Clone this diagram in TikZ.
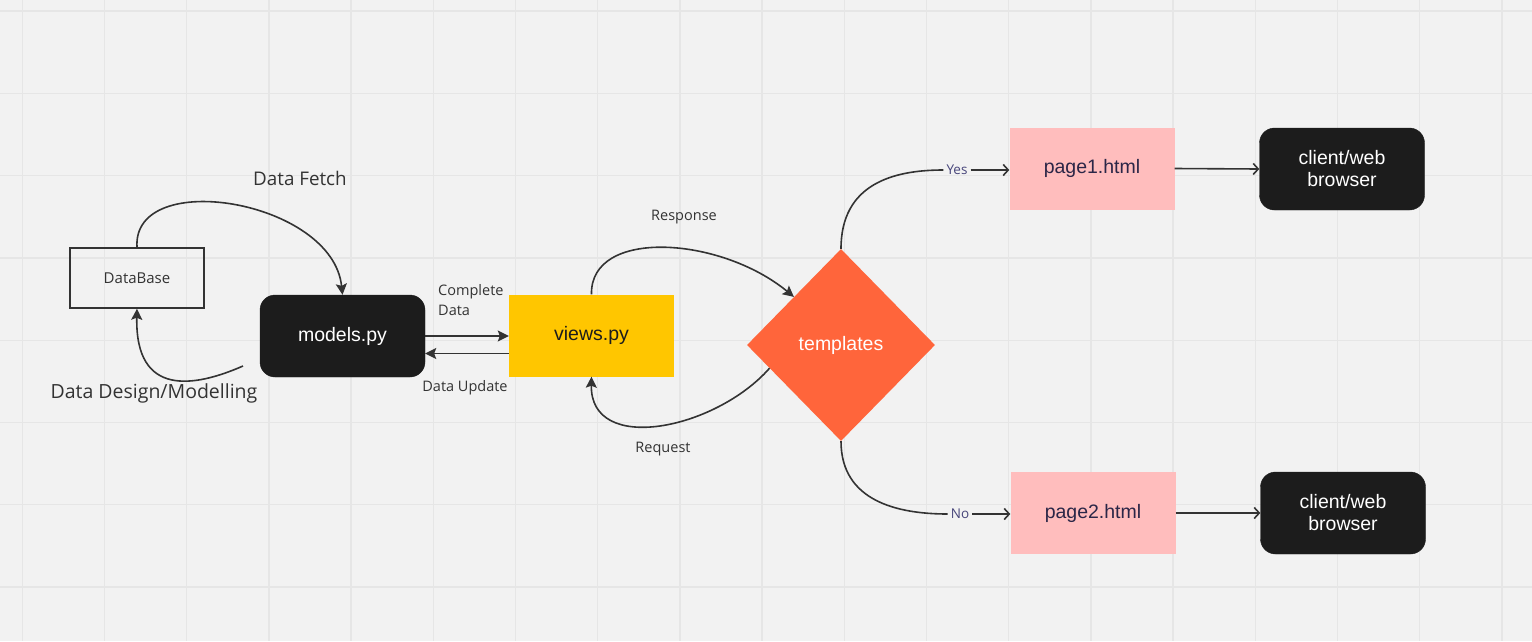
\documentclass[tikz,border=0pt]{standalone}
\usepackage{fontspec}
\setmainfont{Open Sans}
\newfontfamily\arialf{Liberation Sans}
\usetikzlibrary{shapes.geometric,arrows.meta}
\definecolor{bg}{HTML}{F2F2F2}
\definecolor{gridc}{HTML}{E6E6E6}
\definecolor{ink}{HTML}{333333}
\definecolor{dark}{HTML}{1C1C1C}
\definecolor{yel}{HTML}{FFC600}
\definecolor{ora}{HTML}{FF653B}
\definecolor{pinkc}{HTML}{FFBDBD}
\definecolor{navy}{HTML}{2B2647}
\definecolor{purp}{HTML}{47457A}
\begin{document}
\begin{tikzpicture}[x=1pt,y=-1pt,
  conn/.style={draw=ink,line width=1.6pt},
  fa/.style={conn,-{Stealth[length=11pt,width=11pt,inset=2pt]}},
  oa/.style={conn,-{Straight Barb[length=5pt,width=11pt]}},
  lbl/.style={text=ink,font=\fontsize{14.5}{16}\selectfont,inner sep=0pt},
  biglbl/.style={text=ink,inner sep=0pt},
  yn/.style={text=purp,font=\fontsize{13.5}{16}\selectfont,inner xsep=3pt,inner ysep=0pt},
  boxbase/.style={minimum width=165pt,minimum height=82pt,inner sep=0pt,align=center,
    font=\arialf\fontsize{19.5}{22}\selectfont},
  darkbox/.style={boxbase,fill=dark,draw=dark,rounded corners=15pt,text=white},
  pagebox/.style={boxbase,fill=pinkc,text=navy},
]
\useasboundingbox (0,0) rectangle (1532,641);
\fill[bg] (0,0) rectangle (1532,641);
\foreach \i in {0,...,18} \draw[gridc,line width=1.3pt] ({22.3+82.2*\i},0) -- ({22.3+82.2*\i},641);
\foreach \j in {0,...,7} \draw[gridc,line width=1.3pt] (0,{11+82.3*\j}) -- (1532,{11+82.3*\j});

% nodes
\node[draw=ink,line width=1.5pt,minimum width=134pt,minimum height=60pt,inner sep=0pt,
  text=ink,font=\fontsize{15}{18}\selectfont] (db) at (137,278) {DataBase};
\node[darkbox] (models) at (342.5,336) {models.py};
\node[boxbase,fill=yel,text=dark] (views) at (591.5,335.5) {views.py};
\node[diamond,fill=ora,minimum width=188pt,minimum height=192pt,inner sep=0pt,text=white,
  font=\arialf\fontsize{19.5}{22}\selectfont] (tmpl) at (841,345) {templates};
\node[pagebox] (page1) at (1092,168.5) {page1.html};
\node[pagebox] (page2) at (1093,513) {page2.html};
\node[darkbox] (client1) at (1342,169) {client/web\\browser};
\node[darkbox] (client2) at (1343,513) {client/web\\browser};

% labels
\node[biglbl,font=\fontsize{18.8}{20}\selectfont] (lfetch) at (300,178) {Data Fetch};
\node[biglbl,font=\fontsize{19.5}{22}\selectfont] (ldesign) at (154,393) {Data Design/Modelling};
\node[lbl,anchor=north west,align=left,font=\fontsize{14.5}{20}\selectfont] (lcomplete) at (438,284) {Complete\\Data};
\node[lbl] (lupdate) at (465,388) {Data Update};
\node[lbl] (lresp) at (684,217) {Response};
\node[lbl] (lreq) at (663,449) {Request};
\node[yn] (yes) at (957,170) {Yes};
\node[yn] (no) at (960,514) {No};

% connectors
\coordinate (dds) at (243,366);
\draw[fa] (db.north) .. controls +(-5,-80) and +(-10,-95) .. (models.north);
\draw[fa] (dds) .. controls (195,387) and (135,398) .. (db.south);
\draw[fa] (models.east) -- (views.west |- models.east);
\draw[fa] ([yshift=-18pt]views.west) -- ([yshift=-18pt]views.west -| models.east);
\draw[fa] (views.north) .. controls (590,228) and (720,236) .. (tmpl.north west);
\draw[fa] (tmpl.198) .. controls (715,430) and (590,455) .. (views.south);
\draw[conn] (tmpl.north) .. controls +(0,-65) and +(-50,0) .. (yes.west);
\draw[oa] (yes.east) -- (yes.east -| page1.west);
\draw[conn] (tmpl.south) .. controls +(0,60) and +(-50,0) .. (no.west);
\draw[oa] (no.east) -- (no.east -| page2.west);
\draw[oa] (page1.east) -- (client1.west);
\draw[oa] (page2.east) -- (client2.west);
\end{tikzpicture}
\end{document}
